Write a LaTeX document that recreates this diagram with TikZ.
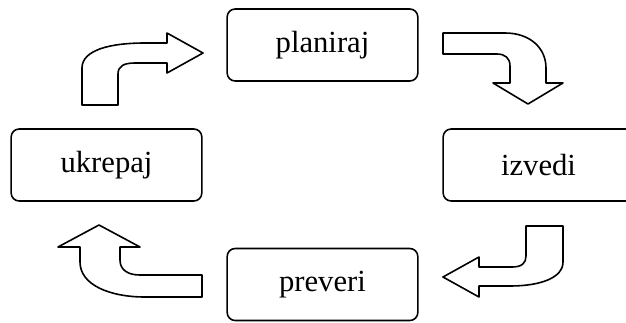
\documentclass[tikz,border=0pt]{standalone}
\usepackage{fontspec}
\setmainfont{Liberation Serif}
\usetikzlibrary{positioning}
\tikzset{
  stepbox/.style={draw,rounded corners=6pt,line width=1.2pt,minimum width=143pt,minimum height=54pt,
    inner sep=2pt,font=\fontsize{23}{27}\selectfont},
  blockarrow/.style={draw,line width=1.2pt,line join=round,fill=white},
}
\begin{document}
\begin{tikzpicture}[x=0.75pt,y=-0.75pt]
\useasboundingbox (0,0) rectangle (626,322);

\node[stepbox] (plan) at (322.5,45) {planiraj};
\node[stepbox] (izv) at (538.5,165) {izvedi};
\node[stepbox] (prev) at (322.5,284.5) {preveri};
\node[stepbox] (ukr) at (106.5,165) {ukrepaj};

% ukrepaj -> planiraj
\draw[blockarrow] (82,105) -- (82,68) .. controls (82,50) and (110,43) .. (145,43) -- (167,43)
  -- (167,33) -- (203,53) -- (167,73) -- (167,63) -- (135,63)
  .. controls (124,63) and (118,66) .. (118,74) -- (118,105) -- cycle;
% planiraj -> izvedi
\draw[blockarrow] (443,33) -- (505,33) .. controls (530,33) and (546,48) .. (546,68) -- (546,83)
  -- (563,83) -- (528,104) -- (493,83) -- (510,83) -- (510,66)
  .. controls (510,58) and (505,54) .. (497,54) -- (443,54) -- cycle;
% izvedi -> preveri
\draw[blockarrow] (526,226) -- (563,226) -- (563,262) .. controls (563,278) and (540,286) .. (510,286)
  -- (479,286) -- (479,297) -- (443,277) -- (479,257) -- (479,267) -- (512,267)
  .. controls (522,267) and (526,263) .. (526,256) -- cycle;
% preveri -> ukrepaj
\draw[blockarrow] (202,275) -- (140,275) .. controls (128,275) and (120,270) .. (120,260) -- (120,247)
  -- (140,247) -- (99,225) -- (58,247) -- (80,247) -- (80,262)
  .. controls (80,285) and (110,297) .. (145,297) -- (202,297) -- cycle;

\end{tikzpicture}
\end{document}
